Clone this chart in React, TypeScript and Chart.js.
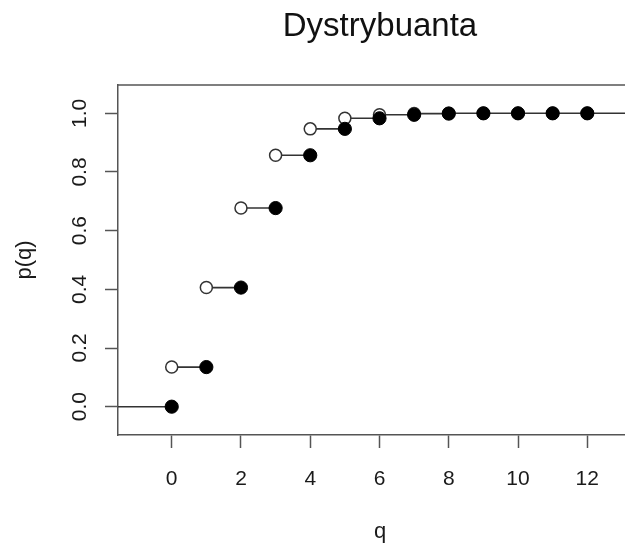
import React, { useEffect, useRef } from "react";
import { Chart, registerables } from "chart.js";

Chart.register(...registerables);

const titleText = "Dystrybuanta";
const xLabel = "q";
const yLabel = "p(q)";

const qValues = [0, 1, 2, 3, 4, 5, 6, 7, 8, 9, 10, 11, 12];
const cdfValues = [0.135, 0.406, 0.677, 0.857, 0.947, 0.983, 0.995, 0.999, 1.0, 1.0, 1.0, 1.0, 1.0];
const startLevel = 0;
const leftTail = -4;
const rightTail = 16;

const xTicks = [0, 2, 4, 6, 8, 10, 12];
const xTickLabels = ["0", "2", "4", "6", "8", "10", "12"];
const yTicks = [0, 0.2, 0.4, 0.6, 0.8, 1.0];
const yTickLabels = ["0.0", "0.2", "0.4", "0.6", "0.8", "1.0"];

const xRange = [-1.551, 13.58];
const yRange = [-0.0965, 1.0965];

const FONT = "'Liberation Sans', Arial, sans-serif";
const AXIS = "#555555";
const CANVAS_W = 642;
const CANVAS_H = 546;

const topBorder = {
  id: "topBorder",
  beforeDatasetsDraw(chart: any) {
    const { ctx, chartArea } = chart;
    ctx.save();
    ctx.strokeStyle = AXIS;
    ctx.lineWidth = 1.5;
    ctx.beginPath();
    ctx.moveTo(chartArea.left, chartArea.top);
    ctx.lineTo(chartArea.right, chartArea.top);
    ctx.lineTo(chartArea.right, chartArea.bottom);
    ctx.stroke();
    ctx.restore();
  },
};

export default function App() {
  const ref = useRef<HTMLCanvasElement | null>(null);

  useEffect(() => {
    if (!ref.current) return;

    const segments: any[] = [];
    segments.push({ x: leftTail, y: startLevel }, { x: qValues[0], y: startLevel }, { x: qValues[0], y: null });
    qValues.forEach((q, i) => {
      const next = i < qValues.length - 1 ? qValues[i + 1] : rightTail;
      segments.push({ x: q, y: cdfValues[i] }, { x: next, y: cdfValues[i] }, { x: next, y: null });
    });

    const filled = [{ x: qValues[0], y: startLevel }].concat(
      qValues.slice(1).map((q, i) => ({ x: q, y: cdfValues[i] }))
    );
    const open = qValues.map((q, i) => ({ x: q, y: cdfValues[i] }));

    const chart = new Chart(ref.current, {
      type: "line",
      data: {
        datasets: [
          {
            label: "filled",
            data: filled,
            showLine: false,
            pointRadius: 6.6,
            pointHoverRadius: 6.6,
            pointBackgroundColor: "#000000",
            pointBorderColor: "#000000",
            pointBorderWidth: 1,
            order: 0,
          },
          {
            label: "open",
            data: open,
            showLine: false,
            pointRadius: 6,
            pointHoverRadius: 6,
            pointBackgroundColor: "#ffffff",
            pointBorderColor: "#333333",
            pointBorderWidth: 1.5,
            order: 1,
          },
          {
            label: "steps",
            data: segments,
            borderColor: "#333333",
            borderWidth: 1.6,
            pointRadius: 0,
            spanGaps: false,
            tension: 0,
            order: 2,
          },
        ] as any,
      },
      options: {
        responsive: false,
        animation: false,
        devicePixelRatio: 1,
        layout: { padding: 0, autoPadding: false },
        plugins: {
          legend: { display: false },
          tooltip: { enabled: false },
          title: {
            display: true,
            text: titleText,
            fullSize: false,
            color: "#111111",
            font: { family: FONT, size: 33, weight: "normal" },
            padding: { top: 7, bottom: 38.4 },
          },
        },
        scales: {
          x: {
            type: "linear",
            min: xRange[0],
            max: xRange[1],
            afterFit: (s: any) => {
              s.height = 111;
              s.paddingLeft = 0;
              s.paddingRight = 0;
            },
            afterBuildTicks: (s: any) => {
              s.ticks = xTicks.map((v) => ({ value: v }));
            },
            grid: {
              drawOnChartArea: false,
              drawTicks: true,
              tickLength: 13,
              tickColor: AXIS,
              tickWidth: 1.5,
            },
            border: { display: true, color: AXIS, width: 1.5 },
            ticks: {
              autoSkip: false,
              maxRotation: 0,
              minRotation: 0,
              padding: 19,
              color: "#1a1a1a",
              font: { family: FONT, size: 21 },
              callback: (_v: any, i: number) => xTickLabels[i],
            },
            title: {
              display: true,
              text: xLabel,
              color: "#1a1a1a",
              font: { family: FONT, size: 22 },
              padding: { top: 0, bottom: 1 },
            },
          },
          y: {
            type: "linear",
            min: yRange[0],
            max: yRange[1],
            afterFit: (s: any) => {
              s.width = 118;
              s.paddingTop = 0;
              s.paddingBottom = 0;
            },
            afterBuildTicks: (s: any) => {
              s.ticks = yTicks.map((v) => ({ value: v }));
            },
            grid: {
              drawOnChartArea: false,
              drawTicks: true,
              tickLength: 13,
              tickColor: AXIS,
              tickWidth: 1.5,
            },
            border: { display: true, color: AXIS, width: 1.5 },
            ticks: {
              autoSkip: false,
              minRotation: 90,
              maxRotation: 90,
              crossAlign: "center",
              padding: 10,
              color: "#1a1a1a",
              font: { family: FONT, size: 21 },
              callback: (_v: any, i: number) => yTickLabels[i],
            },
            title: {
              display: true,
              text: yLabel,
              color: "#1a1a1a",
              font: { family: FONT, size: 22 },
              padding: { top: 12, bottom: 0 },
            },
          },
        },
      } as any,
      plugins: [topBorder],
    });

    return () => chart.destroy();
  }, []);

  return (
    <div
      style={{
        position: "absolute",
        left: 0,
        top: 0,
        width: 625,
        height: CANVAS_H,
        overflow: "hidden",
        background: "#ffffff",
      }}
    >
      <canvas
        ref={ref}
        width={CANVAS_W}
        height={CANVAS_H}
        style={{ display: "block", width: CANVAS_W, height: CANVAS_H }}
      />
    </div>
  );
}
